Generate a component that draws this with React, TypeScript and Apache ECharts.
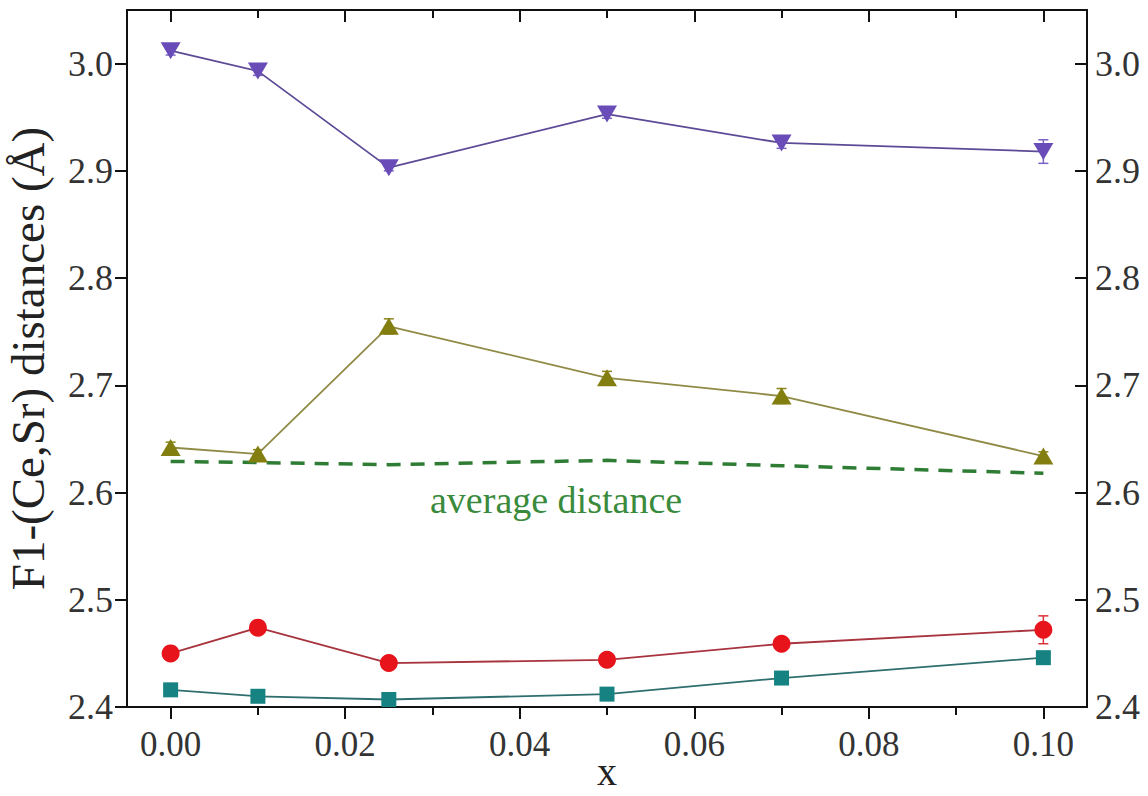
import React, { useEffect, useRef } from "react";
import * as echarts from "echarts";

const xValues = [0, 0.01, 0.025, 0.05, 0.07, 0.1];
const purpleY = [3.012, 2.993, 2.903, 2.953, 2.926, 2.918];
const purpleErr = [0.004, 0.004, 0.003, 0.004, 0.005, 0.011];
const oliveY = [2.642, 2.636, 2.755, 2.707, 2.690, 2.634];
const oliveErr = [0.005, 0.004, 0.007, 0.006, 0.007, 0.004];
const redY = [2.450, 2.474, 2.441, 2.444, 2.459, 2.472];
const redErr = [0.003, 0.003, 0.003, 0.003, 0.004, 0.013];
const tealY = [2.416, 2.410, 2.407, 2.412, 2.427, 2.446];
const tealErr = [0.002, 0.002, 0.002, 0.002, 0.002, 0.003];
const avgY = [2.629, 2.628, 2.626, 2.630, 2.625, 2.618];

const xMajorTicks = [0, 0.02, 0.04, 0.06, 0.08, 0.1];
const xMinorTicks = [0.01, 0.03, 0.05, 0.07, 0.09];
const yMajorTicks = [2.4, 2.5, 2.6, 2.7, 2.8, 2.9, 3.0];

const FONT = "Liberation Serif";

function pairs(ys: number[]) {
  return xValues.map((x, i) => [x, ys[i]]);
}
function errTriples(ys: number[], es: number[]) {
  return xValues.map((x, i) => [x, ys[i], es[i]]);
}

function errSeries(ys: number[], es: number[], color: string) {
  return {
    type: "custom",
    data: errTriples(ys, es),
    z: 1,
    renderItem: (params: any, api: any) => {
      const x = api.value(0);
      const y = api.value(1);
      const e = api.value(2);
      const t = api.coord([x, y + e]);
      const b = api.coord([x, y - e]);
      const hw = 5;
      const st = { stroke: color, lineWidth: 1.5 };
      return {
        type: "group",
        children: [
          { type: "line", shape: { x1: t[0], y1: t[1], x2: b[0], y2: b[1] }, style: st },
          { type: "line", shape: { x1: t[0] - hw, y1: t[1], x2: t[0] + hw, y2: t[1] }, style: st },
          { type: "line", shape: { x1: b[0] - hw, y1: b[1], x2: b[0] + hw, y2: b[1] }, style: st },
        ],
      };
    },
  };
}

export default function App() {
  const ref = useRef<HTMLDivElement>(null);
  useEffect(() => {
    if (!ref.current) return;
    const chart = echarts.init(ref.current, null, { renderer: "svg" });
    const xMin = -0.005;
    const xMax = 0.105;
    const yMin = 2.4;
    const yMax = 3.05;
    const baseX = {
      type: "value",
      min: xMin,
      max: xMax,
      splitLine: { show: false },
    };
    const baseY = {
      type: "value",
      min: yMin,
      max: yMax,
      splitLine: { show: false },
    };
    const axLine = { show: true, onZero: false, lineStyle: { color: "#111", width: 2 } };
    const noLine = { show: false, onZero: false };
    chart.setOption({
      animation: false,
      backgroundColor: "#ffffff",
      textStyle: { fontFamily: FONT },
      grid: {
        left: 127,
        right: 61,
        top: 10,
        bottom: 89,
        show: true,
        borderColor: "#111",
        borderWidth: 2,
        containLabel: false,
        outerBoundsMode: "none",
      },
      xAxis: [
        {
          ...baseX,
          position: "bottom",
          name: "x",
          nameLocation: "middle",
          nameGap: 44,
          nameMoveOverlap: false,
          nameTextStyle: { fontFamily: FONT, fontSize: 40, color: "#222", verticalAlign: "top" },
          axisLine: axLine,
          axisTick: { show: true, inside: false, length: 12, customValues: xMajorTicks, lineStyle: { color: "#111", width: 2 } },
          axisLabel: {
            show: true,
            customValues: xMajorTicks,
            fontFamily: FONT,
            fontSize: 35,
            color: "#333",
            margin: 20,
            formatter: (v: number) => v.toFixed(2),
          },
        },
        {
          ...baseX,
          position: "bottom",
          axisLine: noLine,
          axisTick: { show: true, inside: false, length: 8, customValues: xMinorTicks, lineStyle: { color: "#111", width: 2 } },
          axisLabel: { show: false, customValues: xMinorTicks },
        },
        {
          ...baseX,
          position: "top",
          axisLine: axLine,
          axisTick: { show: true, inside: true, length: 12, customValues: xMajorTicks, lineStyle: { color: "#111", width: 2 } },
          axisLabel: { show: false, customValues: xMajorTicks },
        },
        {
          ...baseX,
          position: "top",
          axisLine: noLine,
          axisTick: { show: true, inside: true, length: 8, customValues: xMinorTicks, lineStyle: { color: "#111", width: 2 } },
          axisLabel: { show: false, customValues: xMinorTicks },
        },
      ],
      yAxis: [
        {
          ...baseY,
          position: "left",
          name: "F1-(Ce,Sr) distances (Å)",
          nameLocation: "middle",
          nameGap: 76,
          nameMoveOverlap: false,
          nameTextStyle: { fontFamily: FONT, fontSize: 47, color: "#222" },
          axisLine: axLine,
          axisTick: { show: true, inside: false, length: 12, customValues: yMajorTicks, lineStyle: { color: "#111", width: 2 } },
          axisLabel: {
            show: true,
            customValues: yMajorTicks,
            fontFamily: FONT,
            fontSize: 36,
            color: "#333",
            margin: 14,
            formatter: (v: number) => v.toFixed(1),
          },
        },
        {
          ...baseY,
          position: "right",
          axisLine: axLine,
          axisTick: { show: true, inside: true, length: 12, customValues: yMajorTicks, lineStyle: { color: "#111", width: 2 } },
          axisLabel: {
            show: true,
            customValues: yMajorTicks,
            fontFamily: FONT,
            fontSize: 36,
            color: "#333",
            margin: 8,
            formatter: (v: number) => v.toFixed(1),
          },
        },
      ],
      series: [
        {
          type: "line",
          data: pairs(avgY),
          symbol: "none",
          lineStyle: { color: "#2f7d35", width: 3.5, type: [14, 10] },
          z: 1,
        },
        errSeries(purpleY, purpleErr, "#7a63c4"),
        errSeries(oliveY, oliveErr, "#8a8416"),
        errSeries(redY, redErr, "#e0303a"),
        errSeries(tealY, tealErr, "#1a8080"),
        {
          type: "line",
          data: pairs(purpleY),
          symbol: "triangle",
          symbolRotate: 180,
          symbolSize: [20, 17],
          itemStyle: { color: "#6a4cb8" },
          lineStyle: { color: "#5d4a96", width: 1.8 },
          z: 3,
        },
        {
          type: "line",
          data: pairs(oliveY),
          symbol: "triangle",
          symbolSize: [20, 17],
          itemStyle: { color: "#837e10" },
          lineStyle: { color: "#8f8a45", width: 1.8 },
          z: 3,
        },
        {
          type: "line",
          data: pairs(redY),
          symbol: "circle",
          symbolSize: 18,
          itemStyle: { color: "#e8141c" },
          lineStyle: { color: "#a8343e", width: 1.8 },
          z: 3,
        },
        {
          type: "line",
          data: pairs(tealY),
          symbol: "rect",
          symbolSize: 15,
          itemStyle: { color: "#168282" },
          lineStyle: { color: "#2e6e6e", width: 1.8 },
          z: 3,
        },
      ],
      graphic: [
        {
          type: "text",
          left: 430,
          top: 481,
          style: {
            text: "average distance",
            fontFamily: FONT,
            fontSize: 38,
            fill: "#3a8a3c",
          },
        },
      ],
    });
    return () => chart.dispose();
  }, []);
  return (
    <div
      ref={ref}
      style={{ position: "absolute", left: 0, top: 0, width: 1148, height: 796, background: "#fff" }}
    />
  );
}
